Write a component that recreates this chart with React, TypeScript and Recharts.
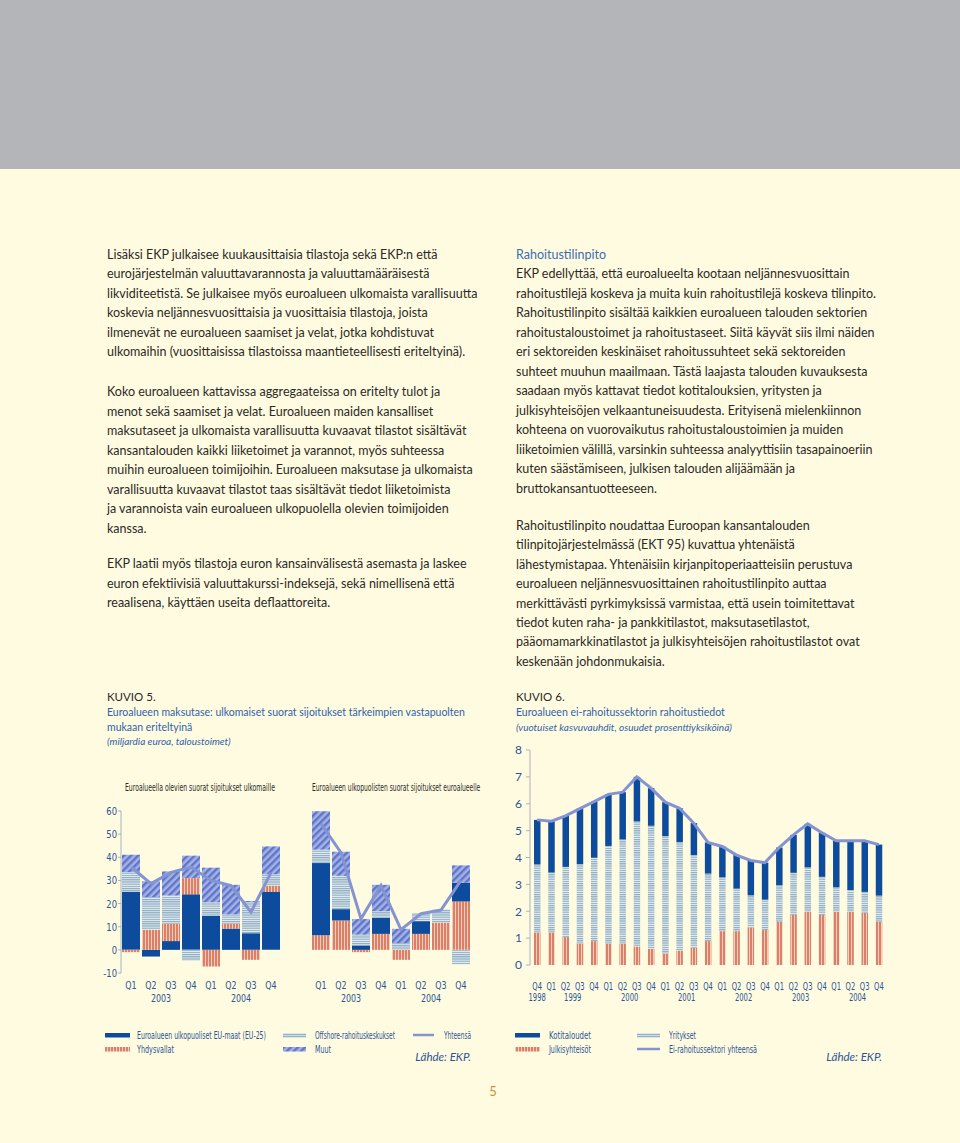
import React from 'react';
import { ComposedChart, Bar, Line, XAxis, YAxis } from 'recharts';

// ---------- Chart 5 (left): outward FDI ----------
const outQuarters = ['Q1', 'Q2', 'Q3', 'Q4', 'Q1', 'Q2', 'Q3', 'Q4'];
const outYearLabels: Record<number, string> = { 1: '2003', 5: '2004' };
const outEU = [25, -2.9, 3.8, 24, 14.7, 9.2, 7.2, 25];
const outUS = [-1, 8.7, 7.5, 7.0, -7.2, 2.1, -4.3, 2.8];
const outOffshore = [8.6, 14.1, 12.2, -4.6, 5.9, 4.0, 13.4, 4.8];
const outOther = [7.5, 6.9, 10.4, 9.7, 14.9, 12.8, 0.5, 12.1];
const outTotal = [35.8, 28.6, 33.5, 35.8, 30.0, 27.8, 16.3, 33.4];

// ---------- Chart 5 (left): inward FDI ----------
const inUS = [6.3, 12.7, -1.0, 6.9, -4.3, 6.9, 11.7, 20.9];
const inEU = [31.2, 4.9, 1.9, 7.0, 0, 5.5, 0, 8.1];
const inOffshore = [5.8, 14.4, 4.7, 2.8, 2.9, 3.5, 5.8, -6.3];
const inOther = [16.6, 10.4, 6.7, 11.4, 6.2, 0, 0, 7.5];
const inTotal = [54.5, 42.0, 13.4, 27.8, 8.7, 15.6, 17.2, 30.0];

const leftTicks = [-10, 0, 10, 20, 30, 40, 50, 60];

// ---------- Chart 6 (right) ----------
const rQuarters = ['Q4', 'Q1', 'Q2', 'Q3', 'Q4', 'Q1', 'Q2', 'Q3', 'Q4', 'Q1', 'Q2', 'Q3', 'Q4',
  'Q1', 'Q2', 'Q3', 'Q4', 'Q1', 'Q2', 'Q3', 'Q4', 'Q1', 'Q2', 'Q3', 'Q4'];
const rYearLabels: Record<number, string> = { 0: '1998', 2: '1999', 6: '2000', 10: '2001', 14: '2002', 18: '2003', 22: '2004' };
const rPublic = [1.21, 1.21, 1.04, 0.8, 0.89, 0.8, 0.8, 0.69, 0.6, 0.42, 0.53, 0.64, 0.89,
  1.26, 1.26, 1.4, 1.3, 1.6, 1.86, 1.98, 1.86, 1.98, 1.98, 1.94, 1.6];
const rCorporations = [2.53, 2.23, 2.61, 2.95, 3.1, 3.63, 3.87, 4.65, 4.58, 4.37, 4.04, 3.45, 2.51,
  2.0, 1.58, 1.19, 1.13, 1.37, 1.57, 1.65, 1.42, 0.91, 0.81, 0.78, 0.98];
const rHouseholds = [1.66, 1.91, 1.9, 2.07, 2.09, 1.92, 1.76, 1.66, 1.4, 1.27, 1.26, 1.19, 1.16,
  1.15, 1.25, 1.3, 1.38, 1.4, 1.41, 1.62, 1.64, 1.73, 1.83, 1.9, 1.9];
const rTotal = [5.4, 5.35, 5.55, 5.82, 6.08, 6.35, 6.43, 7.0, 6.58, 6.06, 5.83, 5.28, 4.56,
  4.41, 4.09, 3.89, 3.81, 4.37, 4.84, 5.25, 4.92, 4.62, 4.62, 4.62, 4.48];
const rightTicks = [0, 1, 2, 3, 4, 5, 6, 7, 8];

// ---------- Page text ----------
const leftPara1 = [
  'Lisäksi EKP julkaisee kuukausittaisia tilastoja sekä EKP:n että',
  'eurojärjestelmän valuuttavarannosta ja valuuttamääräisestä',
  'likviditeetistä. Se julkaisee myös euroalueen ulkomaista varallisuutta',
  'koskevia neljännesvuosittaisia ja vuosittaisia tilastoja, joista',
  'ilmenevät ne euroalueen saamiset ja velat, jotka kohdistuvat',
  'ulkomaihin (vuosittaisissa tilastoissa maantieteellisesti eriteltyinä).',
];
const leftPara2 = [
  'Koko euroalueen kattavissa aggregaateissa on eritelty tulot ja',
  'menot sekä saamiset ja velat. Euroalueen maiden kansalliset',
  'maksutaseet ja ulkomaista varallisuutta kuvaavat tilastot sisältävät',
  'kansantalouden kaikki liiketoimet ja varannot, myös suhteessa',
  'muihin euroalueen toimijoihin. Euroalueen maksutase ja ulkomaista',
  'varallisuutta kuvaavat tilastot taas sisältävät tiedot liiketoimista',
  'ja varannoista vain euroalueen ulkopuolella olevien toimijoiden',
  'kanssa.',
];
const leftPara3 = [
  'EKP laatii myös tilastoja euron kansainvälisestä asemasta ja laskee',
  'euron efektiivisiä valuuttakurssi-indeksejä, sekä nimellisenä että',
  'reaalisena, käyttäen useita deflaattoreita.',
];
const rightPara1 = [
  'EKP edellyttää, että euroalueelta kootaan neljännesvuosittain',
  'rahoitustilejä koskeva ja muita kuin rahoitustilejä koskeva tilinpito.',
  'Rahoitustilinpito sisältää kaikkien euroalueen talouden sektorien',
  'rahoitustaloustoimet ja rahoitustaseet. Siitä käyvät siis ilmi näiden',
  'eri sektoreiden keskinäiset rahoitussuhteet sekä sektoreiden',
  'suhteet muuhun maailmaan. Tästä laajasta talouden kuvauksesta',
  'saadaan myös kattavat tiedot kotitalouksien, yritysten ja',
  'julkisyhteisöjen velkaantuneisuudesta. Erityisenä mielenkiinnon',
  'kohteena on vuorovaikutus rahoitustaloustoimien ja muiden',
  'liiketoimien välillä, varsinkin suhteessa analyyttisiin tasapainoeriin',
  'kuten säästämiseen, julkisen talouden alijäämään ja',
  'bruttokansantuotteeseen.',
];
const rightPara2 = [
  'Rahoitustilinpito noudattaa Euroopan kansantalouden',
  'tilinpitojärjestelmässä (EKT 95) kuvattua yhtenäistä',
  'lähestymistapaa. Yhtenäisiin kirjanpitoperiaatteisiin perustuva',
  'euroalueen neljännesvuosittainen rahoitustilinpito auttaa',
  'merkittävästi pyrkimyksissä varmistaa, että usein toimitettavat',
  'tiedot kuten raha- ja pankkitilastot, maksutasetilastot,',
  'pääomamarkkinatilastot ja julkisyhteisöjen rahoitustilastot ovat',
  'keskenään johdonmukaisia.',
];

// ---------- Styles ----------
const PAGE_BG = '#fffbe0';
const BAND = '#b4b5b9';
const TEXT = '#2b2a28';
const HEAD_BLUE = '#3a6db2';
const CAP_BLUE = '#2f62aa';
const CHART_TXT = '#2c5596';
const DARK = '#0d4c9c';
const LINE_C = '#8494d2';
const AXIS_C = '#aab2c0';
const BODY = "Lato, 'Open Sans', sans-serif";
const COND = "'DejaVu Sans Condensed', 'Liberation Sans Narrow', Roboto, sans-serif";

const Para = ({ lines, x, y0, step }: { lines: string[]; x: number; y0: number; step: number }) => (
  <g>
    {lines.map((t, i) => (
      <text key={i} x={x} y={y0 + i * step} fontFamily={BODY} fontSize={12.5} fill={TEXT}>{t}</text>
    ))}
  </g>
);

// Condensed text: natural glyphs squeezed horizontally to a measured width.
const FitText = ({ x, y, width, size = 10, fill = CHART_TXT, children }: any) => {
  const ref = React.useRef<SVGTextElement | null>(null);
  const [s, setS] = React.useState(0.6);
  React.useLayoutEffect(() => {
    const measure = () => {
      if (ref.current) {
        const w = ref.current.getComputedTextLength();
        if (w > 0) setS(width / w);
      }
    };
    measure();
    const f: any = (document as any).fonts;
    if (f && f.ready) f.ready.then(measure);
  }, [width, children]);
  return (
    <text ref={ref} transform={`translate(${x},${y}) scale(${s},1)`} x={0} y={0}
      fontFamily={COND} fontSize={size} fill={fill}>{children}</text>
  );
};

const makeTick = (labels: string[], years: Record<number, string>, halfBand: number, qDy: number, yDy: number,
  fs: number, sx: number) =>
  (props: any) => {
    const { x, y, index } = props;
    const yr = years[index];
    const shift = index === 0 ? 0 : halfBand;
    return (
      <g>
        <text transform={`translate(${x},${y + qDy}) scale(${sx},1)`} textAnchor="middle" fill={CHART_TXT}
          fontSize={fs} fontFamily={COND}>{labels[index]}</text>
        {yr ? (
          <text transform={`translate(${x + shift},${y + yDy}) scale(${sx},1)`} textAnchor="middle" fill={CHART_TXT}
            fontSize={fs} fontFamily={COND}>{yr}</text>
        ) : null}
      </g>
    );
  };

const leftTick = makeTick(outQuarters, outYearLabels, 10, 16, 29, 11, 0.8);
const rightTick = makeTick(rQuarters, rYearLabels, 7.12, 25, 36, 10.5, 0.72);

const leftYTick = (props: any) => {
  const { x, y, payload } = props;
  return (
    <text transform={`translate(${x},${y + 4}) scale(0.85,1)`} textAnchor="end" fill={CHART_TXT}
      fontSize={11} fontFamily={COND}>{payload.value}</text>
  );
};

export default function App() {
  const outData = outQuarters.map((q, i) => ({
    id: 'o' + i, q, eu: outEU[i], us: outUS[i], off: outOffshore[i], oth: outOther[i], tot: outTotal[i],
  }));
  const inData = outQuarters.map((q, i) => ({
    id: 'i' + i, q, eu: inEU[i], us: inUS[i], off: inOffshore[i], oth: inOther[i], tot: inTotal[i],
  }));
  const rData = rQuarters.map((q, i) => ({
    id: 'r' + i, q, pub: rPublic[i], corp: rCorporations[i], hh: rHouseholds[i], tot: rTotal[i],
  }));

  return (
    <div style={{ position: 'absolute', left: 0, top: 0, width: 960, height: 1143, background: PAGE_BG, overflow: 'hidden' }}>
      <svg width={960} height={1143} style={{ position: 'absolute', left: 0, top: 0 }}>
        <defs>
          <pattern id="pRed" width="3" height="4" patternUnits="userSpaceOnUse">
            <rect width="3" height="4" fill="#f4cdb6" />
            <rect width="2" height="4" fill="#d97f6a" />
          </pattern>
          <pattern id="pOff" width="4" height="2.2" patternUnits="userSpaceOnUse">
            <rect width="4" height="2.2" fill="#e8eef0" />
            <rect width="4" height="1.2" fill="#8eaec4" />
          </pattern>
          <pattern id="pHatch" width="5" height="5" patternUnits="userSpaceOnUse" patternTransform="rotate(45)">
            <rect width="5" height="5" fill="#a3b2e5" />
            <rect width="2.4" height="5" fill="#5f75c9" />
          </pattern>
        </defs>
        <rect x={0} y={0} width={960} height={169} fill={BAND} />

        {/* Left column */}
        <Para lines={leftPara1} x={107} y0={258.5} step={19.5} />
        <Para lines={leftPara2} x={107} y0={396} step={19.5} />
        <Para lines={leftPara3} x={107} y0={568} step={19.5} />

        {/* Right column */}
        <text x={516} y={258.5} fontFamily={BODY} fontSize={12.5} fill={HEAD_BLUE}>Rahoitustilinpito</text>
        <Para lines={rightPara1} x={516} y0={278} step={19.5} />
        <Para lines={rightPara2} x={516} y0={530} step={19.4} />

        {/* Captions */}
        <text x={107} y={701} fontFamily={BODY} fontSize={11.5} fill={TEXT}>KUVIO 5.</text>
        <text x={107} y={716} fontFamily={BODY} fontSize={10.5} fill={CAP_BLUE}>Euroalueen maksutase: ulkomaiset suorat sijoitukset tärkeimpien vastapuolten</text>
        <text x={107} y={731} fontFamily={BODY} fontSize={10.5} fill={CAP_BLUE}>mukaan eriteltyinä</text>
        <text x={107} y={745} fontFamily={BODY} fontSize={10} fontStyle="italic" fill={CAP_BLUE}>(miljardia euroa, taloustoimet)</text>

        <text x={516} y={701} fontFamily={BODY} fontSize={11.5} fill={TEXT}>KUVIO 6.</text>
        <text x={516} y={716} fontFamily={BODY} fontSize={10.5} fill={CAP_BLUE}>Euroalueen ei-rahoitussektorin rahoitustiedot</text>
        <text x={516} y={731} fontFamily={BODY} fontSize={10} fontStyle="italic" fill={CAP_BLUE}>(vuotuiset kasvuvauhdit, osuudet prosenttiyksiköinä)</text>

        {/* Panel titles */}
        <FitText x={125} y={790.5} width={150} size={10} fill="#2a2a2a">Euroalueella olevien suorat sijoitukset ulkomaille</FitText>
        <FitText x={312} y={790.5} width={168} size={10} fill="#2a2a2a">Euroalueen ulkopuolisten suorat sijoitukset euroalueelle</FitText>

        {/* Left legend */}
        <rect x={105} y={1033} width={25} height={4.5} fill={DARK} />
        <FitText x={137} y={1038.5} width={129}>Euroalueen ulkopuoliset EU-maat (EU-25)</FitText>
        <rect x={105} y={1047} width={25} height={4.5} fill="url(#pRed)" />
        <FitText x={137} y={1052.5} width={37}>Yhdysvallat</FitText>
        <rect x={283} y={1033} width={23} height={4.5} fill="url(#pOff)" />
        <FitText x={315} y={1038.5} width={80}>Offshore-rahoituskeskukset</FitText>
        <rect x={283} y={1047} width={23} height={4.5} fill="url(#pHatch)" />
        <FitText x={315} y={1052.5} width={16}>Muut</FitText>
        <line x1={413} y1={1035} x2={434} y2={1035} stroke={LINE_C} strokeWidth={2.5} />
        <FitText x={444} y={1038.5} width={27}>Yhteensä</FitText>
        <text x={471} y={1061} textAnchor="end" fontFamily={BODY} fontSize={11.5} fontStyle="italic" fill={CHART_TXT}>Lähde: EKP.</text>

        {/* Right legend */}
        <rect x={515} y={1033} width={25} height={4.5} fill={DARK} />
        <FitText x={549} y={1038.5} width={42}>Kotitaloudet</FitText>
        <rect x={515} y={1047} width={25} height={4.5} fill="url(#pRed)" />
        <FitText x={549} y={1052.5} width={42}>Julkisyhteisöt</FitText>
        <rect x={637} y={1033} width={23} height={4.5} fill="url(#pOff)" />
        <FitText x={669} y={1038.5} width={27}>Yritykset</FitText>
        <line x1={637} y1={1049} x2={660} y2={1049} stroke={LINE_C} strokeWidth={2.5} />
        <FitText x={669} y={1052.5} width={88}>Ei-rahoitussektori yhteensä</FitText>
        <text x={882} y={1061} textAnchor="end" fontFamily={BODY} fontSize={11.5} fontStyle="italic" fill={CHART_TXT}>Lähde: EKP.</text>

        {/* Page number */}
        <text x={493} y={1096} textAnchor="middle" fontFamily={BODY} fontSize={13} fill="#c8923a">5</text>
      </svg>

      {/* Left chart, panel 1 */}
      <div style={{ position: 'absolute', left: 86, top: 800 }}>
        <ComposedChart width={200} height={203} data={outData} stackOffset="sign"
          margin={{ top: 11, right: 5, bottom: 0, left: 5 }}>
          <XAxis dataKey="id" height={30} tickSize={0} tickMargin={0} axisLine={false} tickLine={false}
            interval={0} tick={leftTick} />
          <YAxis domain={[-10, 60]} ticks={leftTicks} interval={0} width={30} tickSize={3} tickMargin={1}
            axisLine={{ stroke: AXIS_C }} tickLine={{ stroke: AXIS_C }} tick={leftYTick} />
          <Bar dataKey="eu" stackId="s" fill={DARK} barSize={18} isAnimationActive={false} />
          <Bar dataKey="us" stackId="s" fill="url(#pRed)" barSize={18} isAnimationActive={false} />
          <Bar dataKey="off" stackId="s" fill="url(#pOff)" barSize={18} isAnimationActive={false} />
          <Bar dataKey="oth" stackId="s" fill="url(#pHatch)" barSize={18} isAnimationActive={false} />
          <Line dataKey="tot" type="linear" stroke={LINE_C} strokeWidth={3} dot={false} isAnimationActive={false} />
        </ComposedChart>
      </div>

      {/* Left chart, panel 2 */}
      <div style={{ position: 'absolute', left: 306, top: 800 }}>
        <ComposedChart width={170} height={203} data={inData} stackOffset="sign"
          margin={{ top: 11, right: 5, bottom: 0, left: 5 }}>
          <XAxis dataKey="id" height={30} tickSize={0} tickMargin={0} axisLine={false} tickLine={false}
            interval={0} tick={leftTick} />
          <YAxis hide domain={[-10, 60]} ticks={leftTicks} />
          <Bar dataKey="us" stackId="s" fill="url(#pRed)" barSize={18} isAnimationActive={false} />
          <Bar dataKey="eu" stackId="s" fill={DARK} barSize={18} isAnimationActive={false} />
          <Bar dataKey="off" stackId="s" fill="url(#pOff)" barSize={18} isAnimationActive={false} />
          <Bar dataKey="oth" stackId="s" fill="url(#pHatch)" barSize={18} isAnimationActive={false} />
          <Line dataKey="tot" type="linear" stroke={LINE_C} strokeWidth={3} dot={false} isAnimationActive={false} />
        </ComposedChart>
      </div>

      {/* Right chart */}
      <div style={{ position: 'absolute', left: 495, top: 740 }}>
        <ComposedChart width={400} height={265} data={rData}
          margin={{ top: 10, right: 9, bottom: 0, left: 5 }}>
          <XAxis dataKey="id" height={40} tickSize={0} tickMargin={0} axisLine={false} tickLine={false}
            interval={0} tick={rightTick} />
          <YAxis domain={[0, 8]} ticks={rightTicks} interval={0} width={30} tickSize={4} tickMargin={4}
            axisLine={{ stroke: AXIS_C }} tickLine={{ stroke: AXIS_C }}
            tick={{ fill: CHART_TXT, fontSize: 12, fontFamily: BODY }} />
          <Bar dataKey="pub" stackId="r" fill="url(#pRed)" barSize={6.5} isAnimationActive={false} />
          <Bar dataKey="corp" stackId="r" fill="url(#pOff)" barSize={6.5} isAnimationActive={false} />
          <Bar dataKey="hh" stackId="r" fill={DARK} barSize={6.5} isAnimationActive={false} />
          <Line dataKey="tot" type="linear" stroke={LINE_C} strokeWidth={3} dot={false} isAnimationActive={false} />
        </ComposedChart>
      </div>
    </div>
  );
}
